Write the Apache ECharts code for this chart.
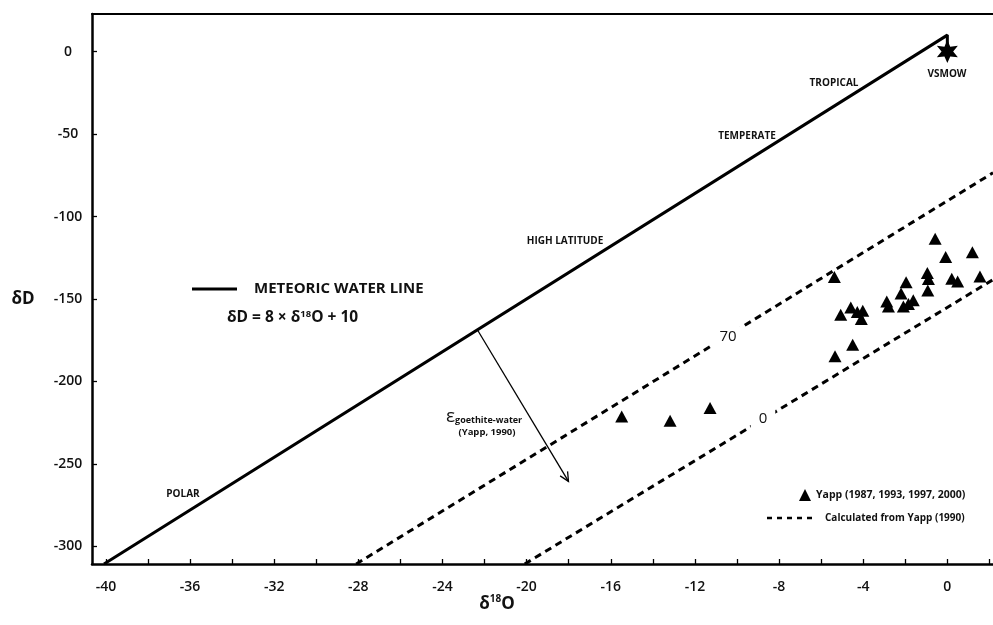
<!DOCTYPE html>
<html>
<head>
<meta charset="utf-8">
<style>
  html, body { margin: 0; padding: 0; background: #fff; }
  #chart { width: 993px; height: 625px; }
</style>
<script src="https://cdn.jsdelivr.net/npm/echarts@6/dist/echarts.min.js"></script>
</head>
<body>
<div id="chart"></div>
<script>
// Meteoric water line: dD = 8 * d18O + 10, ending at VSMOW through a short drop
const mwlO = [-40.09, 0, 0];
const mwlD = [-310.7, 10, 0];

// Goethite-water fractionation lines (calculated from Yapp 1990)
const eps70O = [-28.1, 2.17];
const eps70D = [-310.7, -73.5];
const eps0O = [-20.09, 2.17];
const eps0D = [-310.7, -138.3];

// Goethite samples, Yapp (1987, 1993, 1997, 2000)
const yappO = [-0.58, -0.08, 1.19, -5.37, -0.95, -0.90, -1.96, 0.21, 0.49, 1.55,
               -0.93, -2.20, -2.88, -2.80, -1.62, -2.09, -1.85, -5.07, -4.59, -4.28,
               -4.02, -4.09, -5.34, -4.50, -15.48, -13.18, -11.28];
const yappD = [-113.5, -124.6, -121.6, -136.7, -134.3, -137.9, -139.8, -137.8, -139.4, -136.4,
               -144.8, -146.7, -151.5, -154.5, -150.7, -154.5, -153.1, -159.6, -155.2, -157.9,
               -157.2, -162.2, -184.8, -177.8, -221.2, -223.8, -216.1];

// Standard mean ocean water
const vsmowO = [0];
const vsmowD = [0];

// Fractionation arrow (start on the meteoric line, end below it)
const arrowFrom = [-22.32, -169.1];
const arrowTo = [-18.01, -260.6];

// Axis ticks and labels
const xTickValues = [-40, -38, -36, -34, -32, -30, -28, -26, -24, -22, -20, -18, -16, -14, -12, -10, -8, -6, -4, -2, 0, 2];
const xLabelValues = [-40, -36, -32, -28, -24, -20, -16, -12, -8, -4, 0];
const yTickValues = [0, -50, -100, -150, -200, -250, -300];

const FONT = '"Open Sans", "Noto Sans", sans-serif';
const zip = (a, b) => a.map((v, i) => [v, b[i]]);

// six-pointed star
const starPath = 'path://M0,-10 L2.4,-4.2 L8.66,-5 L4.8,0 L8.66,5 L2.4,4.2 L0,10 L-2.4,4.2 L-8.66,5 L-4.8,0 L-8.66,-5 L-2.4,-4.2 Z';

const chart = echarts.init(document.getElementById('chart'), null, { renderer: 'canvas' });

const option = {
  backgroundColor: '#fff',
  animation: false,
  grid: { left: 92, right: 0, top: 14, bottom: 61 },
  xAxis: [{
    type: 'value',
    min: -40.66,
    max: 2.17,
    position: 'bottom',
    axisLine: { show: true, onZero: false, lineStyle: { color: '#000', width: 2.5 } },
    axisTick: { show: true, inside: true, length: 5, customValues: xTickValues, lineStyle: { color: '#000', width: 1.3 } },
    axisLabel: { show: true, customValues: xLabelValues, margin: 16, color: '#111',
                 fontFamily: FONT, fontWeight: 600, fontSize: 14 },
    splitLine: { show: false }
  }, {
    type: 'value',
    min: -40.66,
    max: 2.17,
    position: 'top',
    axisLine: { show: true, onZero: false, lineStyle: { color: '#000', width: 2 } },
    axisTick: { show: false },
    axisLabel: { show: false },
    splitLine: { show: false }
  }],
  yAxis: {
    type: 'value',
    min: -310.7,
    max: 22.8,
    axisLine: { show: true, onZero: false, lineStyle: { color: '#000', width: 2.5 } },
    axisTick: { show: true, inside: true, length: 5, customValues: yTickValues, lineStyle: { color: '#000', width: 1.3 } },
    axisLabel: { show: true, customValues: yTickValues, margin: 24, align: 'center', color: '#111',
                 fontFamily: FONT, fontWeight: 600, fontSize: 14 },
    splitLine: { show: false }
  },
  series: [
    {
      name: 'Meteoric water line',
      type: 'line',
      data: zip(mwlO, mwlD),
      symbol: 'none',
      clip: true,
      lineStyle: { color: '#000', width: 3 },
      z: 3
    },
    {
      name: 'epsilon 70',
      type: 'line',
      data: zip(eps70O, eps70D),
      symbol: 'none',
      clip: true,
      lineStyle: { color: '#000', width: 3, type: [7, 5] }
    },
    {
      name: 'epsilon 0',
      type: 'line',
      data: zip(eps0O, eps0D),
      symbol: 'none',
      clip: true,
      lineStyle: { color: '#000', width: 3, type: [7, 5] }
    },
    {
      name: 'Yapp (1987, 1993, 1997, 2000)',
      type: 'scatter',
      data: zip(yappO, yappD),
      symbol: 'triangle',
      symbolSize: [13, 12],
      itemStyle: { color: '#000', opacity: 1 },
      z: 4
    },
    {
      name: 'VSMOW',
      type: 'scatter',
      data: zip(vsmowO, vsmowD),
      symbol: starPath,
      symbolSize: [21, 23],
      itemStyle: { color: '#000', opacity: 1 },
      z: 5
    },
    {
      name: 'fractionation arrow',
      type: 'custom',
      data: [[arrowFrom[0], arrowFrom[1], arrowTo[0], arrowTo[1]]],
      encode: { x: [0, 2], y: [1, 3] },
      renderItem: function (params, api) {
        const p1 = api.coord([api.value(0), api.value(1)]);
        const p2 = api.coord([api.value(2), api.value(3)]);
        const ang = Math.atan2(p2[1] - p1[1], p2[0] - p1[0]);
        const head = 10, spread = 0.45;
        const h1 = [p2[0] - head * Math.cos(ang - spread), p2[1] - head * Math.sin(ang - spread)];
        const h2 = [p2[0] - head * Math.cos(ang + spread), p2[1] - head * Math.sin(ang + spread)];
        return {
          type: 'group',
          children: [
            { type: 'line', shape: { x1: p1[0], y1: p1[1], x2: p2[0], y2: p2[1] },
              style: { stroke: '#000', lineWidth: 1.3 } },
            { type: 'polyline', shape: { points: [h1, p2, h2] },
              style: { stroke: '#000', lineWidth: 1.3, fill: null } }
          ]
        };
      },
      z: 3
    }
  ],
  graphic: [
    // axis titles
    { type: 'text', x: 23, y: 299, style: { text: 'δD', font: 'bold 17px ' + FONT, fill: '#111',
      align: 'center', verticalAlign: 'middle' } },
    { type: 'text', x: 497, y: 604, style: {
      text: '{b|δ}{s|18}{b|O}', align: 'center', verticalAlign: 'middle', fill: '#111',
      rich: {
        b: { font: 'bold 17px ' + FONT, fill: '#111', lineHeight: 20 },
        s: { font: 'bold 10px ' + FONT, fill: '#111', verticalAlign: 'top', lineHeight: 20, padding: [0, 0, 8, 0] }
      } } },

    // meteoric water line key and equation
    { type: 'line', shape: { x1: 192, y1: 289, x2: 237, y2: 289 }, style: { stroke: '#000', lineWidth: 3 } },
    { type: 'text', x: 254, y: 289, style: { text: 'METEORIC WATER LINE', font: 'bold 15px ' + FONT,
      fill: '#111', align: 'left', verticalAlign: 'middle' } },
    { type: 'text', x: 227, y: 318, style: {
      text: '{b|δD = 8 × δ}{s|18}{b|O + 10}', align: 'left', verticalAlign: 'middle', fill: '#111',
      rich: {
        b: { font: 'bold 15.5px ' + FONT, fill: '#111', lineHeight: 18 },
        s: { font: 'bold 9.5px ' + FONT, fill: '#111', verticalAlign: 'top', lineHeight: 18, padding: [0, 0, 7, 0] }
      } } },

    // climate zones along the meteoric line
    { type: 'text', x: 183, y: 494, style: { text: 'POLAR', font: 'bold 10px ' + FONT, fill: '#111',
      align: 'center', verticalAlign: 'middle' } },
    { type: 'text', x: 565, y: 241, style: { text: 'HIGH LATITUDE', font: 'bold 10px ' + FONT, fill: '#111',
      align: 'center', verticalAlign: 'middle' } },
    { type: 'text', x: 747, y: 136, style: { text: 'TEMPERATE', font: 'bold 10px ' + FONT, fill: '#111',
      align: 'center', verticalAlign: 'middle' } },
    { type: 'text', x: 834, y: 83, style: { text: 'TROPICAL', font: 'bold 10px ' + FONT, fill: '#111',
      align: 'center', verticalAlign: 'middle' } },
    { type: 'text', x: 947, y: 74, style: { text: 'VSMOW', font: 'bold 10px ' + FONT, fill: '#111',
      align: 'center', verticalAlign: 'middle' } },

    // fractionation values on the dashed lines (white box breaks the dashes)
    { type: 'text', x: 728, y: 337, z: 10, style: { text: '70', font: '500 15px ' + FONT, fill: '#111',
      align: 'center', verticalAlign: 'middle', backgroundColor: '#fff', padding: [3, 8] } },
    { type: 'text', x: 763, y: 419, z: 10, style: { text: '0', font: '500 15px ' + FONT, fill: '#111',
      align: 'center', verticalAlign: 'middle', backgroundColor: '#fff', padding: [3, 8] } },

    // epsilon annotation
    { type: 'text', x: 446, y: 417, style: {
      text: '{e|ε}{g|goethite-water}', align: 'left', verticalAlign: 'middle', fill: '#111',
      rich: {
        e: { font: '19px ' + FONT, fill: '#111', lineHeight: 20 },
        g: { font: 'bold 9px ' + FONT, fill: '#111', lineHeight: 20, padding: [6, 0, 0, 0] }
      } } },
    { type: 'text', x: 487, y: 432, style: { text: '(Yapp, 1990)', font: 'bold 9.5px ' + FONT, fill: '#111',
      align: 'center', verticalAlign: 'middle' } },

    // key
    { type: 'polygon', shape: { points: [[799, 501], [811, 501], [805, 489]] }, style: { fill: '#000' } },
    { type: 'text', x: 816, y: 495, style: { text: 'Yapp (1987, 1993, 1997, 2000)', font: 'bold 10.5px ' + FONT,
      fill: '#111', align: 'left', verticalAlign: 'middle' } },
    { type: 'line', shape: { x1: 767, y1: 518, x2: 816, y2: 518 },
      style: { stroke: '#000', lineWidth: 2.5, lineDash: [5, 5] } },
    { type: 'text', x: 825, y: 518, style: { text: 'Calculated from Yapp (1990)', font: 'bold 10px ' + FONT,
      fill: '#111', align: 'left', verticalAlign: 'middle' } }
  ]
};

chart.setOption(option);
</script>
</body>
</html>
